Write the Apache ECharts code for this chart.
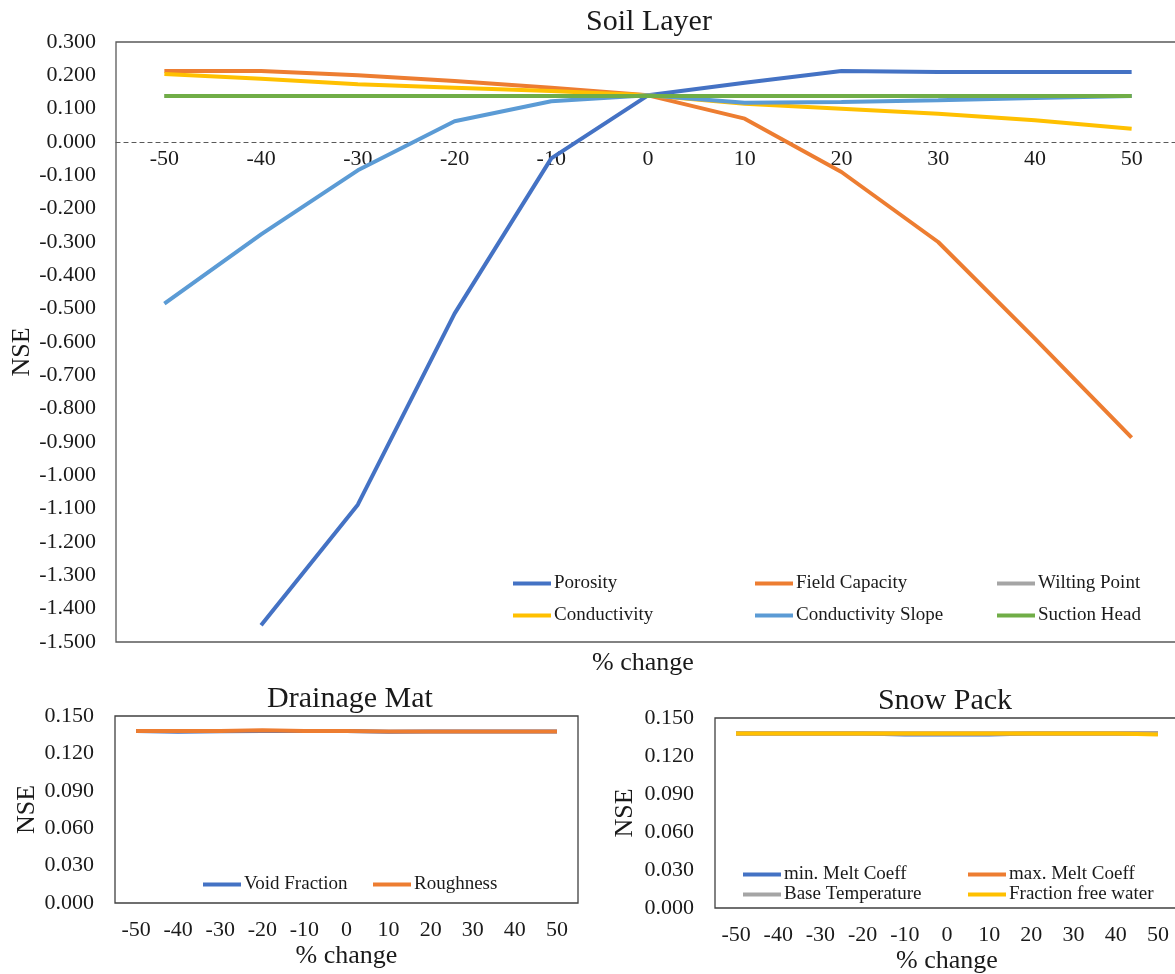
<!DOCTYPE html>
<html>
<head>
<meta charset="utf-8">
<script src="https://cdn.jsdelivr.net/npm/echarts@6/dist/echarts.min.js"></script>
<style>
html,body{margin:0;padding:0;background:#fff;}
#c{width:1175px;height:974px;}
</style>
</head>
<body>
<div id="c"></div>
<script>
// ---- data ----
const categories = ['-50','-40','-30','-20','-10','0','10','20','30','40','50'];

// Soil Layer
const porosity        = [null, -1.450, -1.088, -0.515, -0.049, 0.140, 0.178, 0.213, 0.210, 0.210, 0.210];
const fieldCapacity   = [0.213, 0.213, 0.200, 0.183, 0.163, 0.140, 0.070, -0.090, -0.300, -0.590, -0.887];
const wiltingPoint    = [0.138, 0.138, 0.138, 0.138, 0.138, 0.138, 0.138, 0.138, 0.138, 0.138, 0.138];
const conductivity    = [0.204, 0.190, 0.173, 0.163, 0.153, 0.140, 0.115, 0.100, 0.085, 0.065, 0.040];
const conductSlope    = [-0.485, -0.277, -0.085, 0.062, 0.122, 0.140, 0.118, 0.120, 0.125, 0.132, 0.138];
const suctionHead     = [0.138, 0.138, 0.138, 0.138, 0.138, 0.138, 0.138, 0.138, 0.138, 0.138, 0.138];

// Drainage Mat
const voidFraction    = [0.1380, 0.1373, 0.1378, 0.1380, 0.1380, 0.1380, 0.1373, 0.1375, 0.1375, 0.1375, 0.1375];
const roughness       = [0.1380, 0.1380, 0.1380, 0.1386, 0.1380, 0.1380, 0.1375, 0.1375, 0.1375, 0.1375, 0.1375];

// Snow Pack
const minMelt         = [0.1378, 0.1378, 0.1378, 0.1378, 0.1370, 0.1370, 0.1370, 0.1378, 0.1378, 0.1378, 0.1378];
const maxMelt         = [0.1378, 0.1378, 0.1378, 0.1378, 0.1378, 0.1378, 0.1378, 0.1378, 0.1378, 0.1378, 0.1378];
const baseTemp        = [0.1378, 0.1378, 0.1378, 0.1378, 0.1378, 0.1378, 0.1378, 0.1378, 0.1378, 0.1378, 0.1380];
const fracFreeWater   = [0.1378, 0.1378, 0.1378, 0.1378, 0.1378, 0.1378, 0.1378, 0.1378, 0.1378, 0.1378, 0.1370];

// ---- styles ----
const FONT = '"Liberation Serif", "Times New Roman", serif';
const TXT = '#1a1a1a';
const C = {blue:'#4472C4', orange:'#ED7D31', gray:'#A5A5A5', yellow:'#FFC000', lblue:'#5B9BD5', green:'#70AD47'};

function line(name, data, color, xi, yi){
  return {name, type:'line', data, xAxisIndex:xi, yAxisIndex:yi, symbol:'none',
    lineStyle:{color, width:4}, itemStyle:{color}, connectNulls:false, animation:false};
}
function leg(name, left, top){
  return {data:[name], left, top, icon:'rect', itemWidth:38, itemHeight:4, itemGap:0,
    textStyle:{fontFamily:FONT, fontSize:19, color:TXT, padding:[0,0,0,-2]}, padding:0, selectedMode:false};
}
const tickLabel = (m)=>({fontFamily:FONT, fontSize:22, color:TXT, margin:m});
const nameStyle = {fontFamily:FONT, fontSize:26, color:TXT};
const titleStyle = {fontFamily:FONT, fontSize:30, fontWeight:'normal', color:TXT};

const option = {
  backgroundColor:'#fff',
  animation:false,
  title:[
    {text:'Soil Layer', left:649, top:7, padding:0, textAlign:'center', textStyle:titleStyle},
    {text:'Drainage Mat', left:350, top:684, padding:0, textAlign:'center', textStyle:titleStyle},
    {text:'Snow Pack', left:945, top:686, padding:0, textAlign:'center', textStyle:titleStyle}
  ],
  graphic:[
    {type:'text', left:592, top:650, style:{text:'% change', font:'26px "Liberation Serif", serif', fill:TXT}}
  ],
  legend:[
    leg('Porosity', 513, 574), leg('Field Capacity', 755, 574), leg('Wilting Point', 997, 574),
    leg('Conductivity', 513, 606), leg('Conductivity Slope', 755, 606), leg('Suction Head', 997, 606),
    leg('Void Fraction', 203, 875), leg('Roughness', 373, 875),
    leg('min. Melt Coeff', 743, 865), leg('max. Melt Coeff', 968, 865),
    leg('Base Temperature', 743, 885), leg('Fraction free water', 968, 885)
  ],
  grid:[
    {left:116, top:42, width:1064, height:600, show:true, borderColor:'#595959', borderWidth:1.3, backgroundColor:'transparent', outerBoundsMode:'none', containLabel:false},
    {left:115, top:716, width:463, height:187, show:true, borderColor:'#404040', borderWidth:1.3, backgroundColor:'transparent', outerBoundsMode:'none', containLabel:false},
    {left:715, top:718, width:464, height:190, show:true, borderColor:'#404040', borderWidth:1.3, backgroundColor:'transparent', outerBoundsMode:'none', containLabel:false}
  ],
  xAxis:[
    {type:'category', gridIndex:0, data:categories, boundaryGap:true, position:'bottom', offset:-500,
      axisLine:{onZero:false, lineStyle:{color:'#595959', type:[4,4], width:1.2}},
      axisTick:{show:false}, axisLabel:tickLabel(6)},
    {type:'category', gridIndex:1, data:categories, boundaryGap:true,
      axisLine:{show:false}, axisTick:{show:false}, axisLabel:tickLabel(16),
      name:'% change', nameLocation:'middle', nameGap:40, nameTextStyle:nameStyle},
    {type:'category', gridIndex:2, data:categories, boundaryGap:true,
      axisLine:{show:false}, axisTick:{show:false}, axisLabel:tickLabel(16),
      name:'% change', nameLocation:'middle', nameGap:40, nameTextStyle:nameStyle}
  ],
  yAxis:[
    {type:'value', gridIndex:0, min:-1.5, max:0.3, interval:0.1,
      axisLine:{show:false}, axisTick:{show:false}, splitLine:{show:false},
      axisLabel:{...tickLabel(20), formatter:v=>v.toFixed(3)},
      name:'NSE', nameLocation:'middle', nameGap:81, nameMoveOverlap:false, nameTextStyle:{...nameStyle, padding:[0,20,0,0]}},
    {type:'value', gridIndex:1, min:0, max:0.15, interval:0.03,
      axisLine:{show:false}, axisTick:{show:false}, splitLine:{show:false},
      axisLabel:{...tickLabel(21), formatter:v=>v.toFixed(3)},
      name:'NSE', nameLocation:'middle', nameGap:75, nameTextStyle:nameStyle},
    {type:'value', gridIndex:2, min:0, max:0.15, interval:0.03,
      axisLine:{show:false}, axisTick:{show:false}, splitLine:{show:false},
      axisLabel:{...tickLabel(21), formatter:v=>v.toFixed(3)},
      name:'NSE', nameLocation:'middle', nameGap:77, nameTextStyle:nameStyle}
  ],
  series:[
    line('Porosity', porosity, C.blue, 0, 0),
    line('Field Capacity', fieldCapacity, C.orange, 0, 0),
    line('Wilting Point', wiltingPoint, C.gray, 0, 0),
    line('Conductivity', conductivity, C.yellow, 0, 0),
    line('Conductivity Slope', conductSlope, C.lblue, 0, 0),
    line('Suction Head', suctionHead, C.green, 0, 0),
    line('Void Fraction', voidFraction, C.blue, 1, 1),
    line('Roughness', roughness, C.orange, 1, 1),
    line('min. Melt Coeff', minMelt, C.blue, 2, 2),
    line('max. Melt Coeff', maxMelt, C.orange, 2, 2),
    line('Base Temperature', baseTemp, C.gray, 2, 2),
    line('Fraction free water', fracFreeWater, C.yellow, 2, 2)
  ]
};
const chart = echarts.init(document.getElementById('c'), null, {renderer:'canvas'});
chart.setOption(option);
</script>
</body>
</html>
